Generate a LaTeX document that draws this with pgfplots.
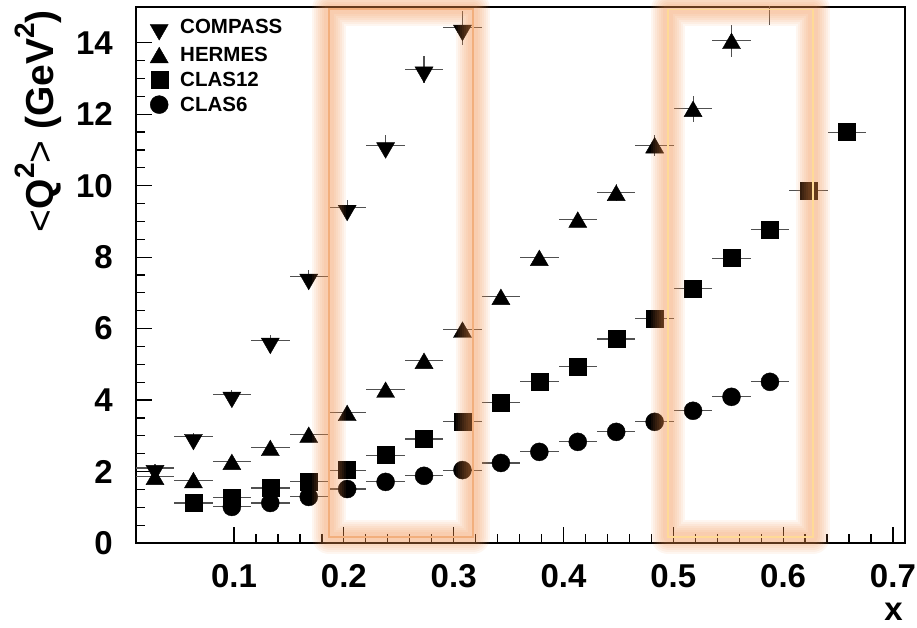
\documentclass[border=0pt]{standalone}
\usepackage{pgfplots}
\pgfplotsset{compat=1.18}
\usepackage{fontspec}
\setmainfont{Liberation Sans}
\definecolor{glow}{RGB}{240,140,70}
\definecolor{lineL}{RGB}{242,175,125}
\definecolor{lineR}{RGB}{255,218,150}
\definecolor{ebar}{RGB}{80,80,80}
\pgfplotstableread{
x y ex ey
0.028 2.10 0.0175 0.10
0.063 2.97 0.0175 0.10
0.098 4.15 0.0175 0.12
0.133 5.66 0.0175 0.15
0.168 7.45 0.0175 0.18
0.203 9.38 0.0175 0.22
0.238 11.13 0.0175 0.30
0.273 13.25 0.0175 0.39
0.308 14.42 0.0175 0.48
}\compass
\pgfplotstableread{
x y ex ey
0.028 1.85 0.0175 0.05
0.063 1.76 0.0175 0.05
0.098 2.27 0.0175 0.06
0.133 2.66 0.0175 0.07
0.168 3.03 0.0175 0.08
0.203 3.64 0.0175 0.09
0.238 4.29 0.0175 0.10
0.273 5.10 0.0175 0.12
0.308 5.97 0.0175 0.13
0.343 6.89 0.0175 0.15
0.378 7.98 0.0175 0.18
0.413 9.05 0.0175 0.20
0.448 9.80 0.0175 0.24
0.483 11.13 0.0175 0.30
0.518 12.15 0.0175 0.36
0.553 14.05 0.0175 0.45
0.588 15.40 0.0175 0.90
}\hermes
\pgfplotstableread{
x y ex ey
0.063 1.12 0.0175 0.02
0.098 1.27 0.0175 0.02
0.133 1.54 0.0175 0.02
0.168 1.71 0.0175 0.02
0.203 2.04 0.0175 0.03
0.238 2.46 0.0175 0.03
0.273 2.91 0.0175 0.03
0.308 3.39 0.0175 0.04
0.343 3.92 0.0175 0.04
0.378 4.51 0.0175 0.05
0.413 4.93 0.0175 0.05
0.448 5.71 0.0175 0.06
0.483 6.29 0.0175 0.07
0.518 7.13 0.0175 0.08
0.553 7.97 0.0175 0.09
0.588 8.77 0.0175 0.10
0.623 9.86 0.0175 0.12
0.658 11.50 0.0175 0.15
}\clastwelve
\pgfplotstableread{
x y ex ey
0.098 1.01 0.0175 0.02
0.133 1.12 0.0175 0.02
0.168 1.29 0.0175 0.02
0.203 1.51 0.0175 0.02
0.238 1.71 0.0175 0.02
0.273 1.88 0.0175 0.03
0.308 2.04 0.0175 0.03
0.343 2.24 0.0175 0.03
0.378 2.55 0.0175 0.03
0.413 2.83 0.0175 0.04
0.448 3.11 0.0175 0.04
0.483 3.39 0.0175 0.04
0.518 3.70 0.0175 0.05
0.553 4.09 0.0175 0.05
0.588 4.51 0.0175 0.06
}\classix
\newcommand{\sq}{\raisebox{19pt}{\fontsize{28}{28}\selectfont 2}}
\begin{document}
\begin{tikzpicture}[x=1pt,y=1pt]
\useasboundingbox (0,0) rectangle (917,628);
\begin{axis}[
  at={(136pt,85pt)}, anchor=south west,
  width=769pt, height=536pt, scale only axis,
  xmin=0.0107, xmax=0.711, ymin=0, ymax=15,
  xtick={0.1,0.2,0.3,0.4,0.5,0.6,0.7},
  ytick={0,2,4,6,8,10,12,14},
  minor x tick num=4, minor y tick num=3,
  xtick pos=left, ytick pos=left,
  tick align=inside,
  major tick length=16pt, minor tick length=9pt,
  every tick/.style={black, line width=1.2pt},
  axis line style={line width=2.8pt},
  /pgf/number format/assume math mode=true,
  tick label style={font=\fontsize{33}{33}\selectfont\bfseries, inner sep=0pt},
  xticklabel style={/pgf/number format/.cd, fixed, precision=1, fixed zerofill, /tikz/.cd, yshift=-21pt},
  yticklabel style={/pgf/number format/.cd, fixed, precision=0, /tikz/.cd, xshift=-23pt},
  clip marker paths=true,
  error bars/x dir=both, error bars/y dir=both,
  error bars/x explicit, error bars/y explicit,
  error bars/error mark=none,
  error bars/error bar style={ebar, line width=1.1pt},
  legend style={
    at={(rel axis cs:0,1)}, anchor=north west, xshift=14pt, yshift=-10pt,
    draw=none, fill=none, inner sep=0pt,
    font=\fontsize{20.5}{20.5}\selectfont\bfseries,
    row sep=5pt,
    /tikz/every odd column/.append style={column sep=10pt},
  },
  legend cell align=left,
  legend image code/.code={\draw[#1] plot coordinates {(0pt,0pt)};},
]
\addplot[only marks, mark=triangle*, mark size=10.4pt, black, mark options={rotate=180, yshift=2.6pt}]
  table[x=x, y=y, x error=ex, y error=ey]{\compass};
\addlegendentry{COMPASS}
\addplot[only marks, mark=triangle*, mark size=10.4pt, black, mark options={yshift=-2.6pt}]
  table[x=x, y=y, x error=ex, y error=ey]{\hermes};
\addlegendentry{HERMES}
\addplot[only marks, mark=square*, mark size=8.5pt, black]
  table[x=x, y=y, x error=ex, y error=ey]{\clastwelve};
\addlegendentry{CLAS12}
\addplot[only marks, mark=*, mark size=9pt, black]
  table[x=x, y=y, x error=ex, y error=ey]{\classix};
\addlegendentry{CLAS6}
\coordinate (L1) at (axis cs:0.1865,0.17);
\coordinate (L2) at (axis cs:0.3177,14.95);
\coordinate (R1) at (axis cs:0.4953,0.17);
\coordinate (R2) at (axis cs:0.6273,14.93);
\end{axis}
\foreach \a/\b/\c in {L1/L2/lineL, R1/R2/lineR}{
  \foreach \w in {34,30,26,22,18,14,10}{
    \draw[glow, line width=\w pt, opacity=0.08, line join=round] (\a) rectangle (\b);
  }
  \draw[\c, line width=1.5pt] (\a) rectangle (\b);
}
\node[rotate=90, anchor=south east, inner sep=0pt, font=\fontsize{39}{39}\selectfont\bfseries]
  at (62pt,618pt) {{\mdseries<}Q\sq{\mdseries>} (GeV\sq)};
\node[anchor=base east, inner sep=0pt, font=\fontsize{33}{33}\selectfont\bfseries]
  at (903pt,7pt) {x};
\end{tikzpicture}
\end{document}
